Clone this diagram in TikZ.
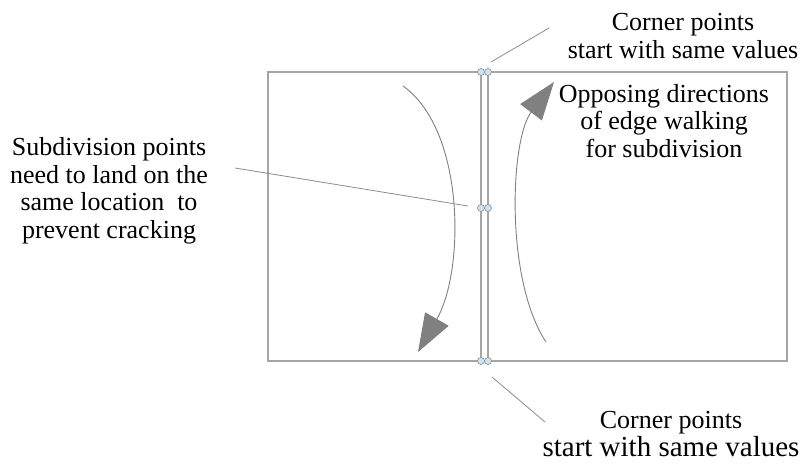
\documentclass[tikz,border=0pt]{standalone}
\usepackage{fontspec}
\setmainfont{Liberation Serif}
\usepackage{tikz}
\usepackage{xcolor}
\usetikzlibrary{arrows.meta,positioning}
\definecolor{edgegray}{HTML}{A6A6A6}
\definecolor{leadgray}{HTML}{8C8C8C}
\definecolor{arrgray}{HTML}{808080}
\definecolor{ptblue}{HTML}{CFE3F3}

\begin{document}
\begin{tikzpicture}[
    x=1pt, y=-1pt,
    patch/.style={draw=edgegray, line width=1.1pt},
    pt/.style={circle, draw=leadgray, fill=ptblue, line width=0.6pt, minimum size=7pt, inner sep=0pt},
    lbl/.style={font=\fontsize{26}{27.5}\selectfont, align=center, inner sep=0pt, anchor=base},
    leader/.style={draw=leadgray, line width=0.8pt},
    walk/.style={draw=arrgray, line width=0.9pt, -{Triangle[length=38pt, width=27pt]}, fill=none}
]
\useasboundingbox (0,0) rectangle (803,464);

% Two patches sharing an edge
\draw[patch] (268,72) rectangle (481,361);
\draw[patch] (488,72) rectangle (787,361);

% Corner and subdivision points
\node[pt] (tl) at (481,72) {};
\node[pt] (tr) at (488,72) {};
\node[pt] (ml) at (481,208) {};
\node[pt] (mr) at (488,208) {};
\node[pt] (bl) at (481,361) {};
\node[pt] (br) at (488,361) {};

% Edge walking directions
\coordinate (lstart) at (403,86);
\coordinate (lend) at (418,352);
\coordinate (rstart) at (546,342);
\coordinate (rend) at (554,82);
\draw[walk] (lstart) .. controls (465,130) and (465,270) .. (lend);
\draw[walk] (rstart) .. controls (505,280) and (510,140) .. (rend);

% Labels (anchored at the last baseline)
\node[lbl] (ctop) at (683,58) {Corner points\\start with same values};
\node[lbl] (cbot) at (671,456) {Corner points\\{\fontsize{29}{27.5}\selectfont start with same values}};
\node[lbl] (walktxt) at (664,157) {Opposing directions\\of edge walking\\for subdivision};
\node[lbl] (subtxt) at (109,238) {Subdivision points\\need to land on the\\same location\ \ to\\prevent cracking};

% Leader lines
\coordinate (ctopend) at (549,28);
\coordinate (ctopfoot) at (491,62);
\coordinate (cbotend) at (545,422);
\coordinate (cbotfoot) at (492,377);
\coordinate (subend) at (235,168);
\coordinate (subfoot) at (468,206);
\draw[leader] (ctopend) -- (ctopfoot);
\draw[leader] (cbotfoot) -- (cbotend);
\draw[leader] (subend) -- (subfoot);
\end{tikzpicture}
\end{document}
